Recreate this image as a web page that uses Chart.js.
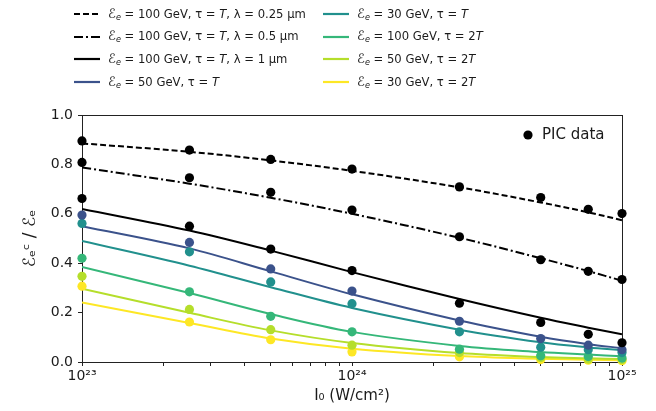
<!DOCTYPE html>
<html>
<head>
<meta charset="utf-8">
<script src="https://cdn.jsdelivr.net/npm/chart.js@4"></script>
<style>
  body { margin: 0; background: #fff; font-family: "DejaVu Sans", sans-serif; }
  #wrap { position: relative; width: 656px; height: 411px; }
  #legend { position: absolute; left: 0; top: 0; width: 656px; height: 100px; font-size: 11.6px; color: #1a1a1a; }
  .item { position: absolute; height: 20px; display: flex; align-items: center; white-space: nowrap; }
  .item svg { margin-right: 8px; }
  .item .cal { font-size: 13px; }
  .item sub { font-size: 70%; vertical-align: -0.3em; font-style: italic; }
</style>
</head>
<body>
<div id="wrap">
  <canvas id="chart" width="656" height="411"></canvas>
  <div id="legend"></div>
</div>
<script>
const intensity = [1e23, 2.5e23, 5e23, 1e24, 2.5e24, 5e24, 7.5e24, 1e25]

const seriesLabels = [
    '<span class="cal">ℰ</span><sub>e</sub>&nbsp;= 100 GeV, τ = <i>T</i>, λ = 0.25 µm',
    '<span class="cal">ℰ</span><sub>e</sub>&nbsp;= 100 GeV, τ = <i>T</i>, λ = 0.5 µm',
    '<span class="cal">ℰ</span><sub>e</sub>&nbsp;= 100 GeV, τ = <i>T</i>, λ = 1 µm',
    '<span class="cal">ℰ</span><sub>e</sub>&nbsp;= 50 GeV, τ = <i>T</i>',
    '<span class="cal">ℰ</span><sub>e</sub>&nbsp;= 30 GeV, τ = <i>T</i>',
    '<span class="cal">ℰ</span><sub>e</sub>&nbsp;= 100 GeV, τ = 2<i>T</i>',
    '<span class="cal">ℰ</span><sub>e</sub>&nbsp;= 50 GeV, τ = 2<i>T</i>',
    '<span class="cal">ℰ</span><sub>e</sub>&nbsp;= 30 GeV, τ = 2<i>T</i>',
]
const seriesColors = ['#000000', '#000000', '#000000', '#3b528b', '#21908d', '#35b779', '#b5de2b', '#fde725']
const seriesDash = [[6, 3], [9, 3, 2, 3], [], [], [], [], [], []]

// model curves
const model100T025 = [0.885, 0.851, 0.816, 0.774, 0.707, 0.646, 0.606, 0.574]
const model100T05 = [0.788, 0.722, 0.665, 0.6, 0.503, 0.42, 0.368, 0.329]
const model100T1 = [0.62, 0.532, 0.451, 0.364, 0.255, 0.179, 0.139, 0.112]
const model50T = [0.55, 0.46, 0.367, 0.274, 0.168, 0.102, 0.072, 0.056]
const model30T = [0.49, 0.39, 0.303, 0.219, 0.131, 0.08, 0.059, 0.048]
const model100T2 = [0.385, 0.279, 0.194, 0.122, 0.065, 0.04, 0.03, 0.023]
const model50T2 = [0.297, 0.199, 0.128, 0.077, 0.036, 0.02, 0.015, 0.012]
const model30T2 = [0.241, 0.158, 0.095, 0.054, 0.024, 0.013, 0.009, 0.007]

// PIC data points
const pic100T025 = [0.895, 0.858, 0.82, 0.781, 0.709, 0.666, 0.618, 0.601]
const pic100T05 = [0.808, 0.746, 0.687, 0.615, 0.507, 0.414, 0.367, 0.334]
const pic100T1 = [0.662, 0.55, 0.457, 0.37, 0.238, 0.16, 0.112, 0.078]
const pic50T = [0.595, 0.484, 0.377, 0.287, 0.165, 0.095, 0.068, 0.05]
const pic30T = [0.561, 0.446, 0.324, 0.236, 0.122, 0.06, 0.05, 0.038]
const pic100T2 = [0.42, 0.284, 0.185, 0.122, 0.052, 0.025, 0.022, 0.016]
const pic50T2 = [0.347, 0.213, 0.131, 0.068, 0.038, 0.018, 0.012, 0.01]
const pic30T2 = [0.307, 0.162, 0.09, 0.041, 0.021, 0.01, 0.007, 0.005]

const modelValues = [model100T025, model100T05, model100T1, model50T, model30T, model100T2, model50T2, model30T2]
const picValues = [pic100T025, pic100T05, pic100T1, pic50T, pic30T, pic100T2, pic50T2, pic30T2]

const yTicks = [0, 0.2, 0.4, 0.6, 0.8, 1.0]
const xDecades = [23, 24, 25]

const supDigits = '⁰¹²³⁴⁵⁶⁷⁸⁹'
function toSup(n) {
    return String(n).split('').map(d => supDigits[+d]).join('')
}

/**
 * @name buildLegend
 * @description Two column legend above the plot, like the matplotlib one.
 */
function buildLegend() {
    const legend = document.getElementById('legend')
    seriesLabels.forEach((label, i) => {
        const col = i < 4 ? 0 : 1
        const row = i % 4
        const item = document.createElement('div')
        item.className = 'item'
        item.style.left = (col === 0 ? 74 : 323) + 'px'
        item.style.top = (4 + row * 22.7) + 'px'
        const dash = seriesDash[i].length ? seriesDash[i].join(',') : 'none'
        item.innerHTML =
            '<svg width="26" height="6"><line x1="0" y1="3" x2="26" y2="3" stroke="' + seriesColors[i] +
            '" stroke-width="2.2" stroke-dasharray="' + dash + '"/></svg><span>' + label + '</span>'
        legend.appendChild(item)
    })
}

const datasets = []
modelValues.forEach((vals, i) => {
    datasets.push({
        type: 'line',
        data: intensity.map((x, j) => ({ x: x, y: vals[j] })),
        borderColor: seriesColors[i],
        borderWidth: 2,
        borderDash: seriesDash[i],
        pointRadius: 0,
        tension: 0.35,
        fill: false,
        order: 2,
    })
})
picValues.forEach((vals, i) => {
    datasets.push({
        type: 'scatter',
        data: intensity.map((x, j) => ({ x: x, y: vals[j] })),
        backgroundColor: seriesColors[i],
        borderColor: seriesColors[i],
        borderWidth: 0,
        pointRadius: 4.6,
        clip: false,
        order: 1,
    })
})

const framePlugin = {
    id: 'frame',
    beforeDatasetsDraw(chart) {
        const a = chart.chartArea
        const ctx = chart.ctx
        ctx.save()
        ctx.strokeStyle = '#222'
        ctx.lineWidth = 1
        ctx.strokeRect(a.left + 0.5, a.top + 0.5, a.right - a.left, a.bottom - a.top)
        ctx.restore()
    },
    afterDraw(chart) {
        // "PIC data" key in the upper right corner
        const a = chart.chartArea
        const ctx = chart.ctx
        ctx.save()
        ctx.fillStyle = '#000'
        ctx.beginPath()
        ctx.arc(a.right - 94, a.top + 20, 4.6, 0, Math.PI * 2)
        ctx.fill()
        ctx.fillStyle = '#1a1a1a'
        ctx.font = '15px "DejaVu Sans"'
        ctx.textBaseline = 'middle'
        ctx.fillText('PIC data', a.right - 80, a.top + 20)
        ctx.restore()
    },
}

buildLegend()

const ctx = document.getElementById('chart').getContext('2d')
const chart = new Chart(ctx, {
    data: { datasets: datasets },
    plugins: [framePlugin],
    options: {
        responsive: false,
        animation: false,
        devicePixelRatio: 1,
        layout: { padding: { top: 115, right: 34, left: 0, bottom: 0 } },
        plugins: { legend: { display: false }, tooltip: { enabled: false } },
        scales: {
            x: {
                type: 'logarithmic',
                min: 1e23,
                max: 1e25,
                afterFit(scale) { scale.height = 49 },
                afterBuildTicks(scale) {
                    const ticks = []
                    for (let e = xDecades[0]; e < xDecades[xDecades.length - 1]; e++) {
                        for (let m = 1; m < 10; m++) ticks.push({ value: m * Math.pow(10, e) })
                    }
                    ticks.push({ value: Math.pow(10, xDecades[xDecades.length - 1]) })
                    scale.ticks = ticks
                },
                grid: { drawOnChartArea: false, drawTicks: true, tickLength: 4, color: '#222' },
                border: { display: true, color: '#222' },
                ticks: {
                    autoSkip: false,
                    maxRotation: 0,
                    padding: 2,
                    color: '#1a1a1a',
                    font: { family: 'DejaVu Sans', size: 14 },
                    callback(value) {
                        const p = Math.log10(value)
                        return Math.abs(p - Math.round(p)) < 1e-9 ? '10' + toSup(Math.round(p)) : ''
                    },
                },
                title: {
                    display: true,
                    text: 'I₀ (W/cm²)',
                    color: '#1a1a1a',
                    font: { family: 'DejaVu Sans', size: 15 },
                    padding: { top: 0, bottom: 6 },
                },
            },
            y: {
                min: 0,
                max: 1,
                afterFit(scale) { scale.width = 82 },
                afterBuildTicks(scale) {
                    scale.ticks = yTicks.map(v => ({ value: v }))
                },
                grid: { drawOnChartArea: false, drawTicks: true, tickLength: 4, color: '#222' },
                border: { display: true, color: '#222' },
                ticks: {
                    padding: 5,
                    color: '#1a1a1a',
                    font: { family: 'DejaVu Sans', size: 14 },
                    callback(value) { return value.toFixed(1) },
                },
                title: {
                    display: true,
                    text: 'ℰₑᶜ / ℰₑ',
                    color: '#1a1a1a',
                    font: { family: 'DejaVu Sans', size: 17 },
                    padding: { top: 20, bottom: 0 },
                },
            },
        },
    },
})
</script>
</body>
</html>
